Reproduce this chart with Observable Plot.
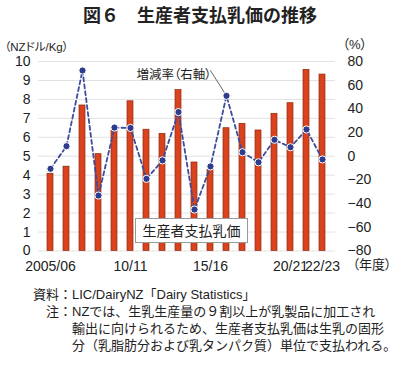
<!DOCTYPE html>
<html><head><meta charset="utf-8">
<script src="https://cdn.jsdelivr.net/npm/d3@7"></script>
<script src="https://cdn.jsdelivr.net/npm/@observablehq/plot@0.6"></script>
<style>
body{margin:0;width:400px;height:366px;position:relative;background:#fff;color:#222;overflow:hidden;font-family:"Liberation Sans","Noto Sans CJK JP",sans-serif}
#title{position:absolute;left:0;top:3px;width:400px;text-align:center;font-weight:bold;font-size:18px;line-height:22px;font-family:"Noto Sans CJK JP",sans-serif;color:#222}
#chart{position:absolute;left:0;top:30px}
#chart svg text{font-feature-settings:"palt"}
#legend{position:absolute;left:135px;top:218px;width:111px;height:23px;border:1px solid #999;background:#fff;font-size:14px;line-height:23px;text-align:center;font-family:"Noto Sans CJK JP",sans-serif}
#notes{position:absolute;left:0;top:286px;font-size:13px;line-height:17px;font-family:"Liberation Sans","Noto Sans CJK JP",sans-serif;color:#222}
.row{display:flex}
.lab{width:72px;text-align:right;flex:none}
</style>
</head><body>
<div id="title">図６　生産者支払乳価の推移</div>
<div id="chart"></div>
<div id="legend">生産者支払乳価</div>
<div id="notes">
<div class="row"><span class="lab">資料：</span><span>LIC/DairyNZ「Dairy Statistics」</span></div>
<div class="row"><span class="lab">注：</span><span>NZでは、生乳生産量の９割以上が乳製品に加工され<br>輸出に向けられるため、生産者支払乳価は生乳の固形<br>分（乳脂肪分および乳タンパク質）単位で支払われる。</span></div>
</div>
<script>
const years = ["2005/06","06/07","07/08","08/09","09/10","10/11","11/12","12/13","13/14","14/15","15/16","16/17","17/18","18/19","19/20","20/21","21/22","22/23"];
const price = [4.07,4.45,7.68,5.11,6.36,7.90,6.40,6.18,8.49,4.67,4.27,6.48,6.71,6.36,7.24,7.80,9.56,9.31];
const rate = [-10.6,8.5,72.4,-33.2,24.2,23.9,-19.1,-3.5,37.3,-45.0,-8.6,51.0,3.4,-5.1,13.9,7.6,22.6,-2.7];
const leftTicks = [0,1,2,3,4,5,6,7,8,9,10];
const rightTicks = [-80,-60,-40,-20,0,20,40,60,80];
const xTicks = ["2005/06","10/11","15/16","20/21","22/23"];
const annotYear = "15/16";
const annotTarget = "16/17";

const toLeft = r => (r + 80) / 16;
const fmtRate = v => v < 0 ? "\u2212" + Math.abs(v) : String(v);
const data = years.map((y, i) => ({year: y, price: price[i], rate: rate[i]}));
const target = data.find(d => d.year === annotTarget);

const chart = Plot.plot({
  width: 400, height: 250,
  marginTop: 31, marginBottom: 29.5, marginLeft: 38, marginRight: 65,
  style: {fontFamily: "Liberation Sans, Noto Sans CJK JP, sans-serif", fontSize: "14px", color: "#222", background: "transparent", overflow: "visible"},
  x: {domain: years, paddingInner: 0.6, paddingOuter: 0.3, axis: null},
  y: {domain: [0, 10], axis: null},
  marks: [
    Plot.gridY(leftTicks, {stroke: "#e2e2e2", strokeOpacity: 1}),
    Plot.barY(data, {x: "year", y: "price", fill: "#d9421d", stroke: "#8a2a10", strokeWidth: 0.7}),
    Plot.line(data, {x: "year", y: d => toLeft(d.rate), stroke: "#3d4c9c", strokeWidth: 1.8, strokeDasharray: "4,3"}),
    Plot.arrow([target], {x1: () => annotYear, y1: () => 9.52, x2: "year", y2: d => toLeft(d.rate), headLength: 0, insetEnd: 3.5, stroke: "#555", strokeWidth: 0.9}),
    Plot.dot(data, {x: "year", y: d => toLeft(d.rate), r: 3.6, fill: "#2e3c8e", stroke: "#fff", strokeWidth: 1}),
    Plot.axisY(leftTicks, {anchor: "left", tickSize: 0, tickPadding: 8, label: null, fontSize: 14}),
    Plot.axisY(rightTicks.map(toLeft), {anchor: "right", tickSize: 0, tickPadding: 12, label: null, fontSize: 14, tickFormat: v => fmtRate(Math.round(v * 16 - 80))}),
    Plot.axisX(xTicks, {tickSize: 0, tickPadding: 10, label: null, fontSize: 14}),
    Plot.text(["（NZドル/Kg）"], {frameAnchor: "top-left", dx: -34, dy: -19, textAnchor: "start", fontSize: 11.5}),
    Plot.text(["（%）"], {frameAnchor: "top-right", dx: 7, dy: -22, textAnchor: "start", fontSize: 13}),
    Plot.text(["（年度）"], {frameAnchor: "bottom-right", dx: 17, dy: 17.5, textAnchor: "start", fontSize: 13}),
    Plot.text([annotYear], {x: d => d, frameAnchor: "top", dy: 9, dx: 1, textAnchor: "end", fontSize: 12.5, text: () => "増減率（右軸）"})
  ]
});
document.getElementById("chart").append(chart);
</script>
</body></html>
